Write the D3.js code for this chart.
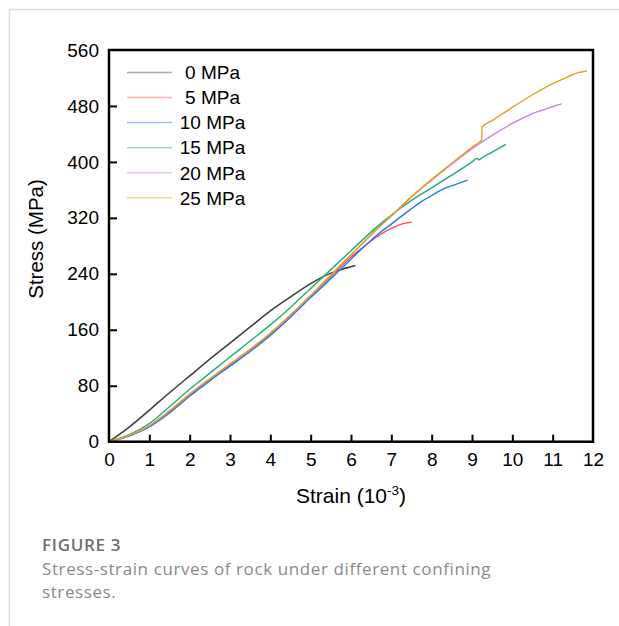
<!DOCTYPE html>
<html><head><meta charset="utf-8">
<script src="https://cdn.jsdelivr.net/npm/d3@7"></script>
<style>html,body{margin:0;padding:0;background:#fff;}svg{display:block;}</style>
</head><body>
<svg id="chart" width="619" height="626"></svg>
<script>
// ---------- data ----------
const seriesNames = ["0 MPa","5 MPa","10 MPa","15 MPa","20 MPa","25 MPa"];
const seriesColors = ["#404040","#ff4a4a","#1f7de6","#1fab78","#c77fe6","#e6a11c"];

const strain0 = [0,0.5,1,1.5,2,2.5,3,3.5,4,4.5,5,5.5,5.8,6.0,6.11];
const stress0 = [0,21,45,70,94,118,141,164,187,207,226,241,247,250,252];

const strain5 = [0,0.5,1,1.5,2,2.5,3,3.5,4,4.5,5,5.5,6,6.3,6.5,6.75,7,7.25,7.51];
const stress5 = [0,9,22,43,67,89,110,131,154,180,208,236,264,278,287,297,305,311,314];

const strain10 = [0,0.5,1,1.5,2,2.5,3,3.5,4,4.5,5,5.5,6,6.5,6.72,7,7.22,7.5,7.79,8,8.21,8.5,8.7,8.89];
const stress10 = [0,8,21,41,65,87,108,129,152,178,206,233,261,288,299,311,321,333,345,352,359,366,370,374];

const strain15 = [0,0.5,1,1.5,2,2.5,3,3.5,4,4.5,5,5.5,6,6.5,7,7.5,8,8.5,9,9.12,9.18,9.25,9.5,9.84];
const stress15 = [0,10,26,50,75,98,121,144,167,192,219,246,273,300,324,345,363,381,400,405,403,406,414,425];

const strain20 = [0,0.5,1,1.5,2,2.5,3,3.5,4,4.5,5,5.5,6,6.5,7,7.5,8,8.5,9,9.5,10,10.5,11,11.22];
const stress20 = [0,9,23,44,68,90,111,132,155,181,209,238,267,296,323,350,374,397,419,438,455,469,479,483];

const strain25 = [0,0.5,1,1.5,2,2.5,3,3.5,4,4.5,5,5.5,6,6.5,7,7.5,8,8.5,9,9.24,9.25,9.5,10,10.5,11,11.35,11.6,11.85];
const stress25 = [0,9,23,44,68,90,111,132,155,181,209,238,267,296,323,350,375,398,421,432,450,459,478,496,512,521,527,530];

const xTicks = [0,1,2,3,4,5,6,7,8,9,10,11,12];
const yTicks = [0,80,160,240,320,400,480,560];

const strains = [strain0,strain5,strain10,strain15,strain20,strain25];
const stresses = [stress0,stress5,stress10,stress15,stress20,stress25];

// ---------- chart ----------
const svg = d3.select("#chart");
const L = 109, R = 593, T = 50, B = 441.7;
const x = d3.scaleLinear().domain([0,12]).range([L,R]);
const y = d3.scaleLinear().domain([0,560]).range([B,T]);
const FONT = "'Liberation Sans', Arial, Helvetica, sans-serif";

// page frame (light gray)
svg.append("path").attr("d","M9.5,626 L9.5,9.5 L619,9.5")
  .attr("fill","none").attr("stroke","#dcdcdc").attr("stroke-width",1.5);

// curves
const line = d3.line().x(d=>x(d[0])).y(d=>y(d[1])).curve(d3.curveMonotoneX);
const g = svg.append("g");
seriesNames.forEach((n,i)=>{
  const pts = strains[i].map((s,k)=>[s,stresses[i][k]]);
  g.append("path").datum(pts).attr("d",line).attr("fill","none")
    .attr("stroke",seriesColors[i]).attr("stroke-width", i===0?1.6:1.4);
});

// axes
const xAxis = d3.axisBottom(x).tickValues(xTicks).tickSizeInner(-7).tickSizeOuter(0).tickPadding(11);
const yAxis = d3.axisLeft(y).tickValues(yTicks).tickSizeInner(-8).tickSizeOuter(0).tickPadding(10);
const gx = svg.append("g").attr("transform",`translate(0,${B})`).call(xAxis);
const gy = svg.append("g").attr("transform",`translate(${L},0)`).call(yAxis);
[gx,gy].forEach(a=>{
  a.select(".domain").remove();
  a.selectAll(".tick line").attr("stroke","#000").attr("stroke-width",2);
  a.selectAll(".tick text").attr("font-family",FONT).attr("font-size",19).attr("fill","#000");
});
gx.selectAll(".tick").filter(d=>d===0||d===12).select("line").remove();
gy.selectAll(".tick").filter(d=>d===0||d===560).select("line").remove();

// frame
svg.append("rect").attr("x",L).attr("y",T).attr("width",R-L).attr("height",B-T)
  .attr("fill","none").attr("stroke","#000").attr("stroke-width",2.5);

// axis titles
svg.append("text").attr("transform",`translate(43,239) rotate(-90)`)
  .attr("text-anchor","middle").attr("font-family",FONT).attr("font-size",20.5).text("Stress (MPa)");
const xt = svg.append("text").attr("x",351).attr("y",503).attr("text-anchor","middle")
  .attr("font-family",FONT).attr("font-size",21);
xt.append("tspan").text("Strain (10");
xt.append("tspan").attr("dy",-8).attr("font-size",13.5).text("-3");
xt.append("tspan").attr("dy",8).text(")");

// legend
const lg = svg.append("g");
seriesNames.forEach((n,i)=>{
  const yy = 72.5 + i*25.05;
  lg.append("line").attr("x1",127).attr("x2",172).attr("y1",yy).attr("y2",yy)
    .attr("stroke",seriesColors[i]).attr("stroke-width",1.5).attr("stroke-opacity",0.45);
  lg.append("text").attr("x",212.5).attr("y",yy).attr("dy","0.36em").attr("text-anchor","middle")
    .attr("font-family",FONT).attr("font-size",19).text(n);
});

// caption
const CF = "'Open Sans', 'Noto Sans', sans-serif";
svg.append("text").attr("x",42).attr("y",551).attr("font-family",CF).attr("font-size",17)
  .attr("font-weight",600).attr("letter-spacing",0.7).attr("fill","#6f6f6f").text("FIGURE 3");
svg.append("text").attr("x",42).attr("y",575).attr("font-family",CF).attr("font-size",17)
  .attr("letter-spacing",0.6).attr("fill","#8a8a8a").text("Stress-strain curves of rock under different confining");
svg.append("text").attr("x",42).attr("y",598).attr("font-family",CF).attr("font-size",17)
  .attr("letter-spacing",0.6).attr("fill","#8a8a8a").text("stresses.");
</script>
</body></html>
